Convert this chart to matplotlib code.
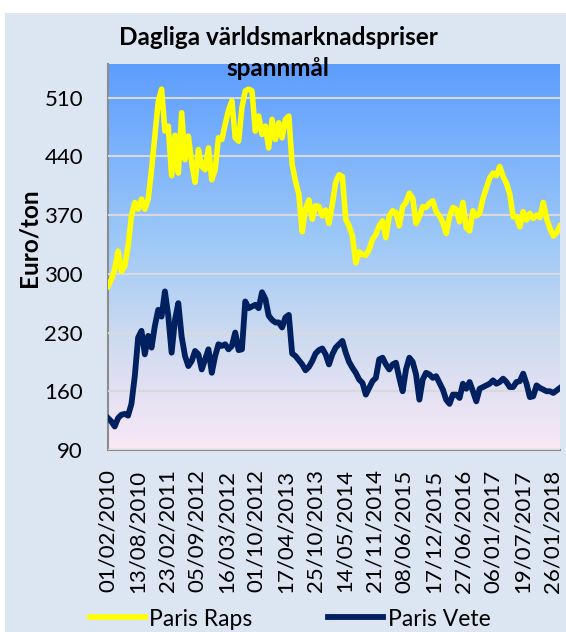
import numpy as np
import matplotlib
matplotlib.use("Agg")
import matplotlib.pyplot as plt
from matplotlib.colors import LinearSegmentedColormap
from matplotlib.patches import Rectangle

plt.rcParams['font.family'] = ['Lato', 'DejaVu Sans']

# Paris Raps (rapeseed), EUR/ton, sampled evenly over the period
raps = [285, 293, 305, 327, 303, 309, 333, 369, 385, 377,
        389, 377, 389, 424, 464, 505, 520, 470, 476, 417,
        465, 420, 492, 436, 464, 432, 409, 448, 428, 424,
        450, 412, 424, 462, 460, 478, 495, 506, 462, 458,
        498, 518, 520, 518, 470, 488, 466, 476, 450, 484,
        460, 480, 462, 484, 488, 430, 410, 395, 350, 377,
        388, 365, 381, 380, 369, 376, 360, 383, 409, 418,
        416, 365, 357, 345, 313, 326, 323, 322, 329, 341,
        347, 357, 363, 343, 369, 375, 373, 357, 380, 385,
        396, 390, 360, 368, 380, 379, 384, 387, 374, 369,
        361, 348, 368, 379, 377, 362, 385, 355, 351, 375,
        369, 372, 390, 402, 414, 420, 417, 428, 416, 408,
        395, 368, 368, 356, 374, 364, 372, 366, 370, 367,
        385, 366, 354, 345, 349, 357]

# Paris Vete (wheat), EUR/ton
vete = [128, 124, 118, 128, 132, 133, 131, 145, 178, 224,
        232, 204, 226, 212, 238, 257, 249, 279, 250, 206,
        245, 265, 225, 202, 190, 196, 208, 204, 186, 198,
        210, 182, 202, 216, 214, 216, 210, 214, 230, 209,
        210, 267, 259, 261, 263, 259, 278, 270, 250, 245,
        242, 242, 236, 248, 251, 205, 202, 197, 192, 185,
        189, 196, 205, 209, 211, 204, 192, 204, 212, 216,
        220, 206, 195, 188, 182, 174, 170, 156, 164, 172,
        176, 198, 200, 192, 186, 192, 194, 176, 160, 186,
        200, 195, 180, 150, 174, 182, 180, 176, 178, 170,
        162, 150, 145, 156, 156, 152, 169, 163, 171, 160,
        148, 163, 165, 167, 169, 173, 169, 171, 175, 171,
        165, 165, 171, 172, 181, 169, 153, 154, 167, 164,
        162, 160, 160, 158, 161, 164]

date_labels = ['01/02/2010', '13/08/2010', '23/02/2011', '05/09/2012',
               '16/03/2012', '01/10/2012', '17/04/2013', '25/10/2013',
               '14/05/2014', '21/11/2014', '08/06/2015', '17/12/2015',
               '27/06/2016', '06/01/2017', '19/07/2017', '26/01/2018']
y_ticks = [90, 160, 230, 300, 370, 440, 510]

W, H = 566, 632
fig = plt.figure(figsize=(W / 100, H / 100), dpi=100)
fig.patch.set_facecolor('white')
fig.add_artist(Rectangle((5 / W, 0), 1, (H - 13) / H, transform=fig.transFigure,
                         facecolor='#DCE6F2', edgecolor='none', zorder=-10))

ax = fig.add_axes([108 / W, 1 - 450 / H, (560 - 108) / W, (450 - 64) / H])

# gradient plot area
cmap = LinearSegmentedColormap.from_list('bg', [(0.0, '#F9E8F6'), (0.3, '#CCDAF0'),
                                                (0.55, '#9CC8F8'), (1.0, '#5C9DFF')])
grad = np.linspace(0, 1, 256).reshape(-1, 1)
ax.imshow(grad, extent=[0, 1, 0, 1], transform=ax.transAxes, origin='lower',
          aspect='auto', cmap=cmap, zorder=0)

x = np.arange(len(raps))
ax.plot(x, raps, color='#FFFF00', lw=4.0, solid_joinstyle='round', label='Paris Raps', zorder=3)
ax.plot(x, vete, color='#002060', lw=4.2, solid_joinstyle='round', label='Paris Vete', zorder=3)

ax.set_xlim(0, len(raps) - 1)
ax.set_ylim(90, 550)
ax.set_yticks(y_ticks)
ax.set_yticklabels([str(v) for v in y_ticks], fontsize=16)
# category labels every n points; the last label sits a little before the end
step = (len(raps) - 1) * (444 / 452) / (len(date_labels) - 1)
ax.set_xticks([i * step for i in range(len(date_labels))])
ax.set_xticklabels(date_labels, rotation=90, fontsize=16)
ax.tick_params(axis='y', length=0, pad=18)
ax.tick_params(axis='x', length=0, pad=14)
ax.grid(axis='y', color='#D9D9D9', lw=1.5, zorder=1)
ax.set_axisbelow(False)
for s in ['top', 'right']:
    ax.spines[s].set_visible(False)
for s in ['left', 'bottom']:
    ax.spines[s].set_color('#8C8C8C')
    ax.spines[s].set_linewidth(1.5)

fig.text(278 / W, 1 - 45 / H, 'Dagliga världsmarknadspriser', ha='center',
         va='baseline', fontsize=17.5, fontweight='bold')
fig.text(278 / W, 1 - 76 / H, 'spannmål', ha='center', va='baseline',
         fontsize=17.5, fontweight='bold')
fig.text(29 / W, 1 - 238 / H, 'Euro/ton', rotation=90, ha='center', va='center',
         fontsize=17.5, fontweight='bold')

fig.legend(loc='center', bbox_to_anchor=(290 / W, 1 - 619 / H), ncol=2,
           frameon=False, fontsize=16.5, handlelength=2.4, handletextpad=0.2,
           columnspacing=3.3, borderpad=0)

fig.savefig('out.png', dpi=100)
